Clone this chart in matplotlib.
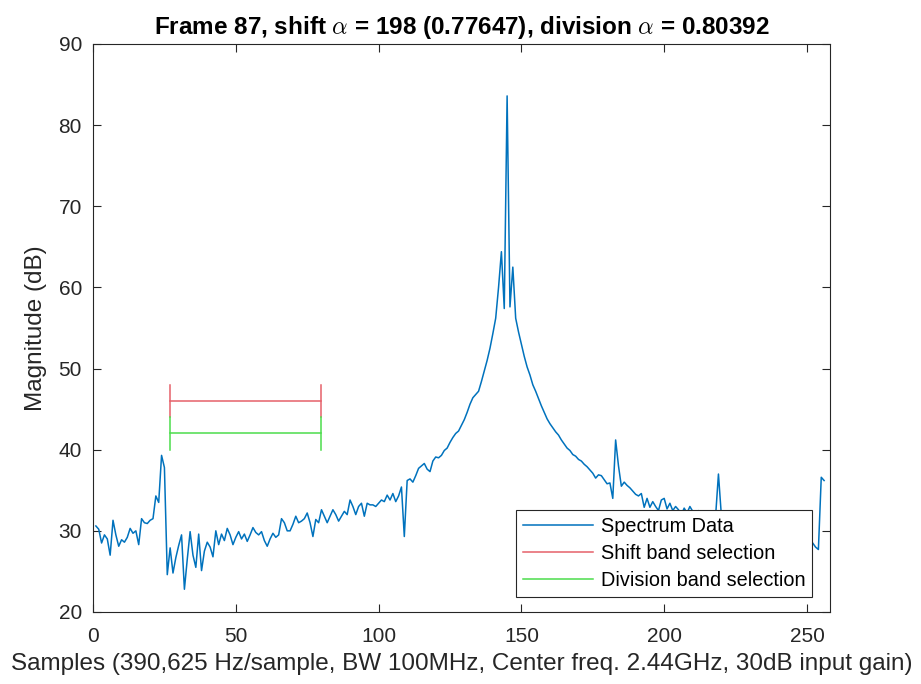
import matplotlib
matplotlib.use("Agg")
import matplotlib.pyplot as plt
import numpy as np

plt.rcParams['font.family'] = ['Liberation Sans', 'DejaVu Sans']
plt.rcParams['mathtext.fontset'] = 'cm'

# spectrum magnitude (dB), samples 1..256
spectrum = [
    30.6, 30.2, 28.5, 29.5, 29.0, 27.0, 31.3, 29.5, 28.1, 28.9,
    28.6, 29.2, 30.3, 29.7, 30.0, 28.3, 31.5, 31.0, 30.9, 31.3,
    31.5, 34.3, 33.5, 39.3, 37.8, 24.6, 27.9, 24.8, 26.7, 28.2,
    29.5, 22.8, 26.5, 29.9, 27.0, 25.5, 29.6, 25.1, 27.5, 28.6,
    28.0, 26.8, 30.0, 28.3, 29.6, 28.8, 30.3, 29.5, 28.3, 29.2,
    29.9, 29.0, 29.6, 28.7, 29.5, 30.4, 29.8, 29.5, 29.9, 28.8,
    28.1, 29.0, 29.7, 29.2, 29.5, 31.5, 31.0, 30.0, 30.0, 30.8,
    31.8, 31.0, 31.2, 31.5, 32.2, 31.0, 29.3, 31.4, 31.0, 32.6,
    31.8, 31.0, 31.8, 32.6, 32.0, 31.2, 31.8, 32.4, 32.0, 33.8,
    33.0, 32.0, 33.0, 33.4, 31.8, 33.4, 33.2, 33.2, 33.0, 33.4,
    33.8, 33.6, 34.4, 33.8, 34.6, 33.6, 34.3, 35.4, 29.3, 36.2,
    36.4, 36.0, 36.8, 37.7, 38.0, 38.3, 37.6, 37.3, 38.6, 39.1,
    39.0, 39.3, 39.9, 40.2, 40.9, 41.5, 42.0, 42.3, 43.0, 43.7,
    44.6, 45.6, 46.4, 46.8, 47.2, 48.4, 49.7, 51.0, 52.5, 54.3,
    56.2, 60.0, 64.4, 57.4, 83.6, 57.6, 62.5, 56.2, 54.5, 53.0,
    51.5, 50.2, 49.2, 48.0, 47.2, 46.3, 45.4, 44.6, 43.8, 43.2,
    42.7, 42.2, 41.8, 41.2, 40.7, 40.2, 39.9, 39.4, 39.2, 38.8,
    38.6, 38.2, 37.9, 37.5, 37.1, 36.5, 36.9, 36.8, 36.3, 35.8,
    35.9, 34.0, 41.2, 38.0, 35.5, 36.0, 35.6, 35.3, 34.9, 34.5,
    34.3, 34.6, 32.9, 34.0, 32.9, 33.6, 33.0, 32.5, 33.8, 34.0,
    32.7, 33.4, 32.5, 33.0, 32.6, 32.0, 32.8, 32.2, 33.0, 32.4,
    31.8, 32.5, 31.9, 32.3, 31.6, 32.0, 31.5, 31.8, 37.0, 32.0,
    31.5, 31.2, 31.6, 31.0, 31.4, 30.8, 31.1, 30.6, 31.0, 30.5,
    30.8, 30.2, 30.6, 30.0, 30.4, 29.8, 30.2, 29.6, 30.0, 29.4,
    29.8, 29.2, 29.5, 29.0, 29.3, 28.8, 29.0, 28.7, 29.0, 28.6,
    28.9, 28.5, 28.0, 27.7, 36.6, 36.2,
]
samples = np.arange(1, len(spectrum) + 1)

shift_band = [27, 80]
shift_level = 46
division_band = [27, 80]
division_level = 42
cap = 2

blue = '#0072BD'
red = '#E5606A'
green = '#4CDC4C'
axcol = '#262626'

fig = plt.figure(figsize=(9.21, 6.84), dpi=100)
ax = fig.add_axes([0.101, 0.1053, 0.800, 0.8304])

ax.plot(samples, spectrum, color=blue, lw=1.1, label='Spectrum Data')

ax.plot(shift_band, [shift_level, shift_level], color=red, lw=1.1,
        label='Shift band selection')
for b in shift_band:
    ax.plot([b, b], [shift_level - cap, shift_level + cap], color=red, lw=1.1)

ax.plot(division_band, [division_level, division_level], color=green, lw=1.1,
        label='Division band selection')
for b in division_band:
    ax.plot([b, b], [division_level - cap, division_level + cap], color=green, lw=1.1)

ax.set_xlim(0, 258)
ax.set_ylim(20, 90)
ax.set_xticks(np.arange(0, 251, 50))
ax.set_yticks(np.arange(20, 91, 10))
ax.tick_params(direction='in', top=True, right=True, length=6, width=0.8,
               labelsize=15, colors=axcol)
ax.tick_params(axis='x', pad=11)
ax.tick_params(axis='y', pad=8)
for s in ax.spines.values():
    s.set_color(axcol)
    s.set_linewidth(0.8)

ax.set_xlabel('Samples (390,625 Hz/sample, BW 100MHz, Center freq. 2.44GHz, 30dB input gain)',
              fontsize=17.5, color=axcol, labelpad=5)
ax.set_ylabel('Magnitude (dB)', fontsize=17.5, color=axcol, labelpad=8)
ax.set_title(r'Frame 87, shift $\alpha$ = 198 (0.77647), division $\alpha$ = 0.80392',
             fontsize=17.5, fontweight='bold', color='black', pad=7)

leg = ax.legend(loc='lower right', bbox_to_anchor=(0.976, 0.026), borderaxespad=0,
                fontsize=14.3, fancybox=False, framealpha=1, edgecolor=axcol,
                handlelength=3.5, handletextpad=0.4, labelspacing=0.42,
                borderpad=0.35)
leg.get_frame().set_linewidth(0.8)

fig.savefig('out.png', dpi=100)
